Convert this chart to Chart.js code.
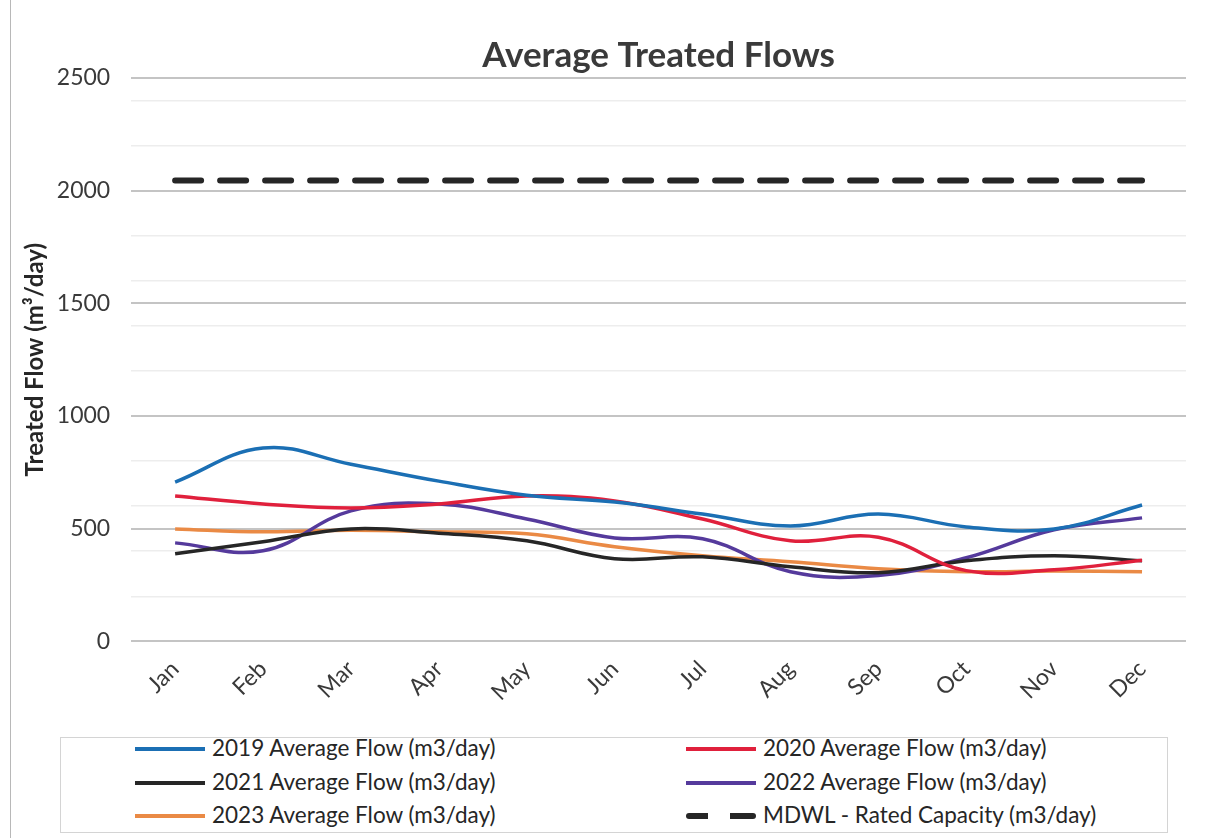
<!DOCTYPE html>
<html>
<head>
<meta charset="utf-8">
<script src="https://cdn.jsdelivr.net/npm/chart.js@4"></script>
<style>
  body { margin: 0; background: #fff; font-family: Lato, "Open Sans", sans-serif; }
  #frame { position: absolute; left: 10px; top: 0; width: 1px; height: 838px; background: #b8b8b8; }
  #wrap { position: absolute; left: 0; top: 0; width: 1222px; height: 734px; }
  #legend { position: absolute; left: 60px; top: 737px; width: 1106px; height: 94px; border: 1px solid #d4d4d4; }
  .item { position: absolute; font-size: 22.5px; color: #262626; white-space: nowrap; }
  .swatch { position: absolute; left: 0; width: 70px; }
  .item span { position: absolute; left: 77px; top: -15px; }
</style>
</head>
<body>
<div id="frame"></div>
<div id="wrap"><canvas id="flowChart"></canvas></div>
<div id="legend"></div>
<script>
const months = ['Jan', 'Feb', 'Mar', 'Apr', 'May', 'Jun', 'Jul', 'Aug', 'Sep', 'Oct', 'Nov', 'Dec'];

const flow2019 = [707, 858, 786, 711, 648, 618, 565, 512, 565, 508, 499, 605];
const flow2020 = [645, 610, 592, 610, 645, 623, 543, 446, 462, 314, 318, 360];
const flow2021 = [389, 442, 499, 480, 446, 367, 375, 331, 305, 358, 380, 358];
const flow2022 = [437, 402, 579, 610, 543, 459, 455, 309, 292, 371, 495, 548];
const flow2023 = [499, 486, 493, 486, 477, 420, 380, 353, 322, 309, 312, 309];
const ratedCapacity = [2045, 2045, 2045, 2045, 2045, 2045, 2045, 2045, 2045, 2045, 2045, 2045];

const seriesLabels = [
    '2019 Average Flow (m3/day)',
    '2020 Average Flow (m3/day)',
    '2021 Average Flow (m3/day)',
    '2022 Average Flow (m3/day)',
    '2023 Average Flow (m3/day)',
    'MDWL - Rated Capacity (m3/day)'
];
const seriesData = [flow2019, flow2020, flow2021, flow2022, flow2023, ratedCapacity];
const seriesColors = ['#1b6fb4', '#e0203c', '#262626', '#553a9c', '#ea8a45', '#262626'];

document.addEventListener('DOMContentLoaded', function () {
    const font = 'Lato, "Open Sans", sans-serif';
    const ctx = document.getElementById('flowChart').getContext('2d');

    const datasets = seriesData.map((values, i) => {
        const dashed = i === 5;
        return {
            label: seriesLabels[i],
            data: values,
            borderColor: seriesColors[i],
            backgroundColor: seriesColors[i],
            borderWidth: dashed ? 6 : 3.5,
            borderDash: dashed ? [26, 19] : [],
            borderCapStyle: dashed ? 'round' : 'butt',
            tension: dashed ? 0 : 0.4,
            pointRadius: 0,
            fill: false
        };
    });

    new Chart(ctx, {
        type: 'line',
        data: { labels: months, datasets: datasets },
        options: {
            responsive: true,
            maintainAspectRatio: false,
            animation: false,
            layout: { padding: { left: 21, right: 36, top: 0, bottom: 22 } },
            plugins: {
                legend: { display: false },
                tooltip: { enabled: false },
                title: {
                    display: true,
                    fullSize: false,
                    text: 'Average Treated Flows',
                    color: '#3a3a3a',
                    font: { family: font, size: 35, weight: 'bold' },
                    padding: { top: 35, bottom: 1 }
                }
            },
            scales: {
                x: {
                    offset: true,
                    grid: { display: false },
                    border: { display: false },
                    ticks: {
                        color: '#3a3a3a',
                        font: { family: font, size: 23 },
                        minRotation: 45,
                        maxRotation: 45,
                        padding: 6
                    }
                },
                y: {
                    min: 0,
                    max: 2500,
                    border: { display: false },
                    title: {
                        display: true,
                        text: 'Treated Flow (m³/day)',
                        color: '#262626',
                        font: { family: font, size: 24, weight: 'bold' },
                        padding: { top: 0, bottom: -14 }
                    },
                    grid: {
                        drawTicks: false,
                        color: c => {
                            const v = c.tick.value;
                            if (v % 500 === 0) return '#c4c4c4';
                            if (v % 200 === 0) return '#ededed';
                            return 'rgba(0,0,0,0)';
                        },
                        lineWidth: c => (c.tick.value % 500 === 0 ? 2 : 1.5)
                    },
                    ticks: {
                        stepSize: 100,
                        autoSkip: false,
                        color: '#3a3a3a',
                        font: { family: font, size: 23 },
                        padding: 21,
                        callback: v => (v % 500 === 0 ? v : '')
                    }
                }
            }
        }
    });

    // legend in two columns, filled row by row like the original
    const legend = document.getElementById('legend');
    const colX = [74, 625];
    const rowY = [11, 45, 78];
    seriesLabels.forEach((label, i) => {
        const item = document.createElement('div');
        item.className = 'item';
        item.style.left = colX[i % 2] + 'px';
        item.style.top = rowY[Math.floor(i / 2)] + 'px';
        const sw = document.createElement('div');
        sw.className = 'swatch';
        if (i === 5) {
            sw.style.top = '-3px';
            sw.style.height = '6px';
            sw.style.background = 'linear-gradient(90deg, #262626 0 22px, transparent 22px 44px, #262626 44px 70px)';
            sw.style.borderRadius = '3px';
        } else {
            sw.style.top = '-2px';
            sw.style.height = '4px';
            sw.style.background = seriesColors[i];
        }
        const txt = document.createElement('span');
        txt.textContent = label;
        item.appendChild(sw);
        item.appendChild(txt);
        legend.appendChild(item);
    });
});
</script>
</body>
</html>
